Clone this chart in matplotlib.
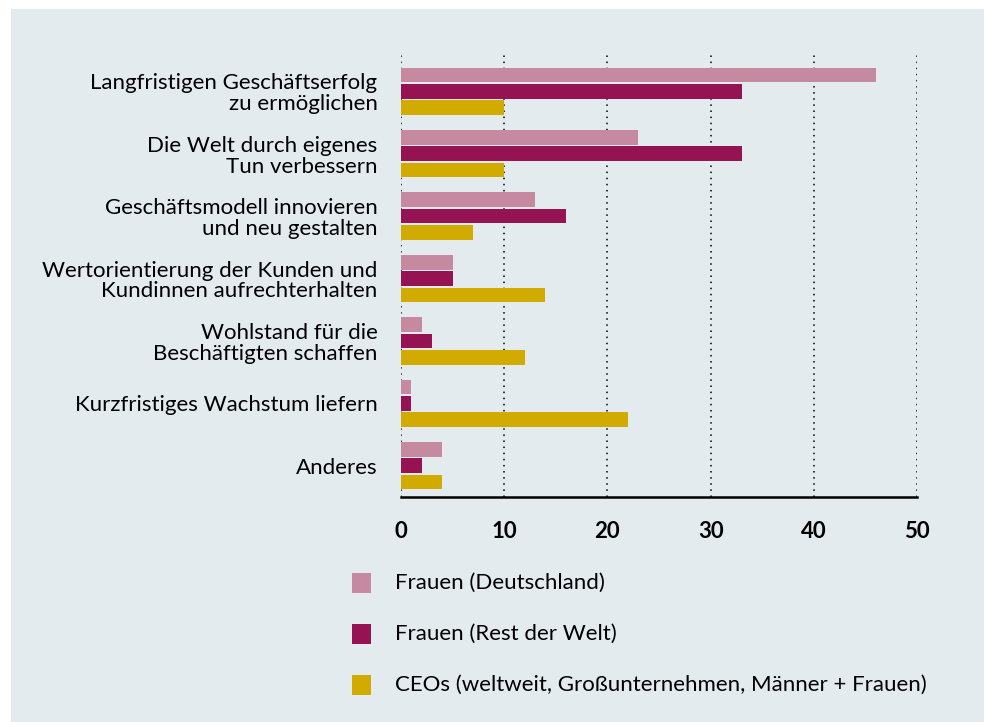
import matplotlib.pyplot as plt
import matplotlib.patches as mpatches
import numpy as np

plt.rcParams['font.family'] = ['Lato', 'DejaVu Sans']

kategorien = ['Langfristigen Geschäftserfolg\nzu ermöglichen',
              'Die Welt durch eigenes\nTun verbessern',
              'Geschäftsmodell innovieren\nund neu gestalten',
              'Wertorientierung der Kunden und\nKundinnen aufrechterhalten',
              'Wohlstand für die\nBeschäftigten schaffen',
              'Kurzfristiges Wachstum liefern',
              'Anderes']
frauen_de = [46, 23, 13, 5, 2, 1, 4]
frauen_welt = [33, 33, 16, 5, 3, 1, 2]
ceos = [10, 10, 7, 14, 12, 22, 4]
serien = ['Frauen (Deutschland)', 'Frauen (Rest der Welt)',
          'CEOs (weltweit, Großunternehmen, Männer + Frauen)']
farben = ['#c58a9f', '#951352', '#d1ab00']
bg = '#e3ebef'

fig = plt.figure(figsize=(9.84, 7.22), dpi=100)
fig.patches.append(mpatches.Rectangle((11/984, 0), 1, 1 - 9/722, transform=fig.transFigure,
                                      facecolor=bg, edgecolor='none', zorder=-10))

ax = fig.add_axes([401/984, 1 - 497/722, 516/984, 445/722])
ax.set_facecolor('none')

y = np.arange(len(kategorien))
h = 0.235
step = 0.262
for i, (werte, farbe) in enumerate(zip([frauen_de, frauen_welt, ceos], farben)):
    ax.barh(y + (i - 1) * step, werte, height=h, color=farbe, zorder=3, label=serien[i])

ax.set_xlim(0, 50)
ax.set_ylim(6.5, -0.63)
ax.set_xticks(range(0, 51, 10))
ax.set_yticks(y)
ax.set_yticklabels(kategorien, fontsize=16, ha='right', linespacing=1.05)
ax.tick_params(axis='y', length=0, pad=17)
ax.tick_params(axis='x', length=0, pad=17, labelsize=16)
for t in ax.get_xticklabels():
    t.set_fontweight('bold')
ax.xaxis.grid(True, linestyle=(0, (1, 3)), color='black', linewidth=1.1, zorder=0)
for s in ['top', 'right', 'left']:
    ax.spines[s].set_visible(False)
ax.spines['bottom'].set_linewidth(1.8)

# Legende
for i, (name, farbe) in enumerate(zip(serien, farben)):
    yy = 1 - (583 + i * 51) / 722
    fig.patches.append(mpatches.Rectangle((352/984, yy - 10/722), 19/984, 20/722,
                                          transform=fig.transFigure, facecolor=farbe, edgecolor='none'))
    fig.text(395/984, yy, name, fontsize=16, va='center', ha='left')

fig.savefig('out.png', dpi=100)
